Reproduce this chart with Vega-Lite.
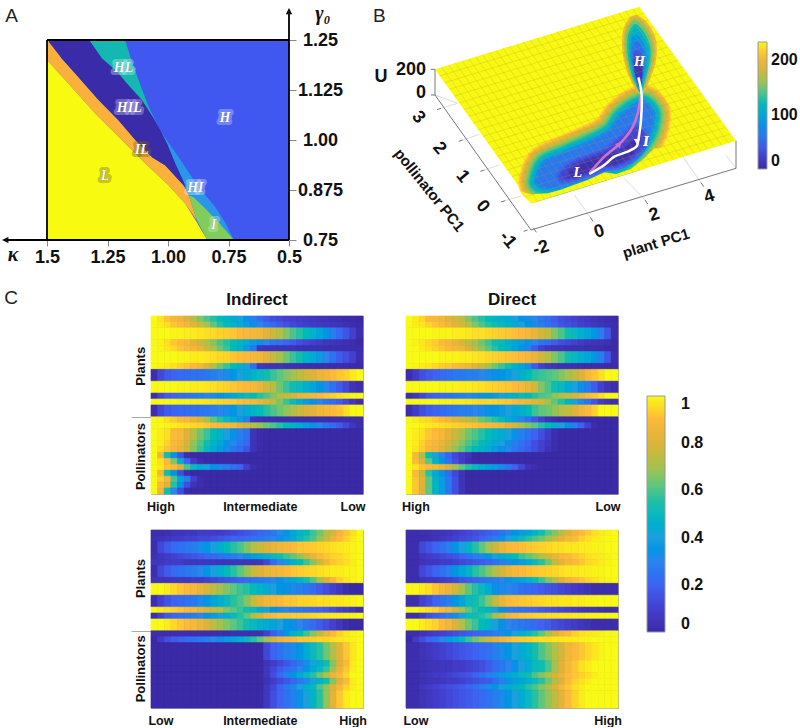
{"$schema":"https://vega.github.io/schema/vega-lite/v6.json","padding":{"left":0,"top":4,"right":0,"bottom":0},"background":"white","config":{"font":"Liberation Sans","view":{"stroke":null},"axis":{"grid":false},"text":{"font":"Liberation Sans"}},"columns":3,"spacing":{"row":36,"column":43},"bounds":"flush","resolve":{"scale":{"fill":"independent","stroke":"independent"},"legend":{"fill":"independent","stroke":"independent"}},
"concat":[
{"width":61,"height":240,"encoding":{"x":{"field":"k","type":"quantitative","scale":{"domain":[1.5,0.5],"range":[0,242]},"axis":{"orient":"bottom","offset":-40,"values":[1.5,1.25,1,0.75,0.5],"format":".2~f","labelExpr":"datum.value==1?'1.00':datum.label","domain":false,"tickColor":"#888888","tickSize":6,"labelFontSize":18,"labelFontWeight":"bold","labelColor":"#111111","title":null,"labelPadding":2,"labelFlush":false,"labelOverlap":false}},"y":{"field":"g","type":"quantitative","scale":{"domain":[0.65,1.25]},"axis":{"orient":"right","offset":181,"values":[0.75,0.875,1,1.125,1.25],"format":".3~f","labelExpr":"datum.value==1?'1.00':datum.label","domain":false,"tickColor":"#888888","tickSize":7,"labelFontSize":18,"labelFontWeight":"bold","labelColor":"#111111","title":null,"labelAlign":"center","labelPadding":24,"labelFlush":false,"labelOverlap":false}}},
"layer":[
{"data":{"values":[
{"r":"H","k":[1.5,0.5,0.5,1.5],"g":[0.75,0.75,1.25,1.25]},
{"r":"HI","k":[1.028,0.956,0.873,0.804,0.76,0.728,0.838,0.914,0.935,0.97],"g":[1.02,0.957,0.882,0.832,0.79,0.75,0.75,0.861,0.895,0.941]},
{"r":"I","k":[0.914,0.894,0.845,0.79,0.749,0.728,0.838,0.88],"g":[0.861,0.857,0.828,0.794,0.765,0.75,0.75,0.798]},
{"r":"HL","k":[1.326,1.177,1.156,1.122,1.08,1.046,1.028,1.059,1.108,1.17,1.211,1.273],"g":[1.25,1.25,1.208,1.15,1.083,1.041,1.02,1.054,1.1,1.141,1.171,1.204]},
{"r":"IL","k":[1.5,1.48,1.439,1.377,1.287,1.204,1.135,1.066,1.011,0.935,0.914,0.88,0.928,0.997,1.094,1.191,1.301,1.412,1.5],"g":[1.25,1.25,1.204,1.162,1.1,1.049,1.0,0.957,0.936,0.886,0.861,0.798,0.84,0.886,0.941,1.0,1.066,1.141,1.2]},
{"r":"HIL","k":[1.481,1.326,1.273,1.211,1.17,1.108,1.059,1.028,1.004,0.97,0.935,0.928,0.935,1.011,1.066,1.135,1.204,1.287,1.377,1.439,1.494],"g":[1.25,1.25,1.204,1.171,1.141,1.1,1.054,1.02,0.991,0.941,0.895,0.882,0.886,0.936,0.957,1.0,1.049,1.1,1.162,1.204,1.246]},
{"r":"L","k":[1.5,1.412,1.301,1.191,1.094,0.997,0.928,0.88,0.838,1.5],"g":[1.2,1.141,1.066,1.0,0.941,0.886,0.84,0.794,0.75,0.75]}
]},"transform":[{"flatten":["k","g"]},{"window":[{"op":"row_number","as":"i"}],"groupby":["r"]}],"mark":{"type":"line","strokeWidth":0,"stroke":null,"fillOpacity":1},"encoding":{"fill":{"field":"r","type":"nominal","scale":{"domain":["H","HI","I","HL","IL","HIL","L"],"range":["#4057F0","#2A96E8","#80CC5C","#14B8B0","#FBB03B","#3A2BA8","#F8FA10"]},"legend":null},"order":{"field":"i","type":"quantitative"}}},
{"data":{"values":[{"k":1.5,"g":0.75,"g2":1.25,"k2":1.5},{"k":1.5,"g":1.25,"k2":0.5,"g2":1.25},{"k":0.5,"g":0.75,"k2":0.5,"g2":1.32},{"k":0.5,"g":0.75,"k2":1.669,"g2":0.75}]},"mark":{"type":"rule","stroke":"#000000","strokeWidth":1.8},"encoding":{"x2":{"field":"k2"},"y2":{"field":"g2"}}},
{"data":{"values":[{"k":0.5,"g":1.32}]},"mark":{"type":"point","shape":"M-1,1L0,-1L1,1","size":22,"stroke":"#000000","strokeWidth":1.5,"filled":false,"opacity":1}},
{"data":{"values":[{"k":1.669,"g":0.75}]},"mark":{"type":"point","shape":"M1,-1L-1,0L1,1","size":22,"stroke":"#000000","strokeWidth":1.5,"filled":false,"opacity":1}},
{"data":{"values":[{"k":1.646,"g":1.31,"t":"A"}]},"mark":{"type":"text","fontSize":19,"color":"#222222"},"encoding":{"text":{"field":"t"}}},
{"data":{"values":[{"k":1.64,"g":0.713,"t":"κ"},{"k":0.36,"g":1.315,"t":"γ₀"}]},"mark":{"type":"text","font":"Liberation Serif","fontSize":20,"fontWeight":"bold","fontStyle":"italic","color":"#111111"},"encoding":{"text":{"field":"t"}}},
{"data":{"name":"alab","values":[{"k":1.26,"g":0.909,"t":"L"},{"k":1.108,"g":0.976,"t":"IL"},{"k":0.887,"g":0.88,"t":"HI"},{"k":0.811,"g":0.788,"t":"I"},{"k":1.16,"g":1.079,"t":"HIL"},{"k":1.184,"g":1.181,"t":"HL"},{"k":0.765,"g":1.054,"t":"H"}]},"mark":{"type":"text","font":"Liberation Serif","fontSize":14,"fontWeight":"bold","fontStyle":"italic","strokeWidth":6,"strokeOpacity":0.4,"strokeJoin":"round"},"encoding":{"text":{"field":"t"},"stroke":{"field":"t","type":"nominal","scale":{"domain":["L","IL","HI","I","HIL","HL","H"],"range":["#77771A","#77601A","#CDE6FF","#C8F0B0","#C8C0F0","#B0F0E8","#C8D0FF"]},"legend":null}}},
{"data":{"name":"alab"},"mark":{"type":"text","font":"Liberation Serif","fontSize":14,"fontWeight":"bold","fontStyle":"italic","fill":"#FFFFFF"},"encoding":{"text":{"field":"t"}}}
]},
{"width":212,"height":240,"encoding":{"x":{"field":"x","type":"quantitative","scale":{"domain":[-630,6],"clamp":false},"axis":null},"y":{"field":"y","type":"quantitative","scale":{"domain":[840,120]},"axis":null}},
"layer":[
{"data":{"values":[{"x":222,"y":208,"i":1},{"x":835,"y":20,"i":2},{"x":1125,"y":422,"i":3},{"x":510,"y":610,"i":4}]},"mark":{"type":"line","stroke":null,"fill":"#F8F812","strokeWidth":0},"encoding":{"order":{"field":"i","type":"quantitative"}}},
{"data":{"values":[
{"c":"L4","u":[225,215,205,195,185,175,165,155,145,135,125,115,105,95,85,75,65,60],"x":[850,870,875,865,845,820,790,765,735,680,640,600,565,532,530,550,610,660,715,752,778,810,835],"y":[310,330,350,395,430,460,487,502,505,528,543,556,562,552,535,490,462,440,415,390,352,325,312]},
{"c":"L5","u":[55,50,45,40,35,30,25],"x":[845,850,830,800,765,735,680,630,600,605,640,690,740,790,825],"y":[400,420,455,480,495,497,520,535,535,515,490,470,450,410,385]},
{"c":"L6","u":[20,15,10,5],"x":[830,815,790,760,725,680,640,625,640,690,745,790,815],"y":[425,455,477,490,493,512,527,525,505,480,465,450,425]}
]},"transform":[{"flatten":["x","y"]},{"flatten":["u"]},{"window":[{"op":"row_number","as":"i"}],"groupby":["c","u"]}],"mark":{"type":"line","interpolate":"cardinal-closed","strokeJoin":"round"},"encoding":{"detail":[{"field":"c"},{"field":"u"}],"order":{"field":"i","type":"quantitative"},"size":{"field":"u","type":"quantitative","scale":{"domain":[5,24,25,59,60,234],"range":[0,7,0,12,0,40]},"legend":null},"stroke":{"field":"u","type":"quantitative","scale":{"domain":[0,23.4,46.8,70.2,93.6,117,140.4,163.8,187.2,210.6,234.01],"range":["#3B2AA5","#4340D0","#3E62F2","#2A85EC","#1BA0DC","#0BB8C0","#4BC58C","#A6C24E","#DDB339","#FDB93A","#F8FA16"]},"legend":null},"fill":{"field":"u","type":"quantitative","scale":{"domain":[0,23.4,46.8,70.2,93.6,117,140.4,163.8,187.2,210.6,234],"range":["#3B2AA5","#4340D0","#3E62F2","#2A85EC","#1BA0DC","#0BB8C0","#4BC58C","#A6C24E","#DDB339","#FDB93A","#F8FA16"]},"legend":{"orient":"none","legendX":607,"legendY":2,"direction":"vertical","title":null,"gradientLength":127,"gradientThickness":9,"values":[0,100,200],"labelFontSize":16,"labelFontWeight":"bold","labelColor":"#111111","labelOffset":4,"gradientStrokeColor":"#999999","gradientStrokeWidth":1}}}},
{"data":{"values":[{"i":1,"x":480,"y":575},{"i":2,"x":510,"y":583},{"i":3,"x":560,"y":580},{"i":4,"x":600,"y":569},{"i":5,"x":640,"y":554},{"i":6,"x":680,"y":540},{"i":7,"x":730,"y":517},{"i":8,"x":765,"y":522},{"i":9,"x":810,"y":507},{"i":10,"x":850,"y":475},{"i":11,"x":880,"y":445},{"i":12,"x":1125,"y":422},{"i":13,"x":510,"y":610}]},"mark":{"type":"line","stroke":null,"fill":"#F8F812","strokeWidth":0},"encoding":{"order":{"field":"i","type":"quantitative"}}},
{"data":{"values":[{"i":1,"x":510,"y":611},{"i":2,"x":1125,"y":423},{"i":3,"x":1125,"y":520},{"i":4,"x":510,"y":700}]},"mark":{"type":"line","stroke":null,"fill":"#FFFFFF","strokeWidth":0},"encoding":{"order":{"field":"i","type":"quantitative"}}},
{"data":{"values":[{"x":222,"y":285,"x2":290,"y2":310},{"x":305,"y":420,"x2":355,"y2":403},{"x":370,"y":510,"x2":415,"y2":495},{"x":432,"y":602,"x2":480,"y2":588},{"x":688,"y":652,"x2":640,"y2":585},{"x":852,"y":600,"x2":790,"y2":535},{"x":1020,"y":548,"x2":965,"y2":470},{"x":1125,"y":505,"x2":1095,"y2":465},{"x":240,"y":325,"x2":290,"y2":310}]},"mark":{"type":"rule","stroke":"#DDDDDD","strokeWidth":1},"encoding":{"x2":{"field":"x2"},"y2":{"field":"y2"}}},
{"data":{"values":[{"x":222,"y":208,"x2":222,"y2":285},{"x":222,"y":285,"x2":510,"y2":690},{"x":510,"y":690,"x2":1125,"y2":505},{"x":1125,"y":422,"x2":1125,"y2":505},{"x":222,"y":208,"x2":210,"y2":208},{"x":222,"y":285,"x2":210,"y2":285},{"x":240,"y":325,"x2":228,"y2":329},{"x":305,"y":420,"x2":293,"y2":424},{"x":370,"y":510,"x2":358,"y2":514},{"x":432,"y":602,"x2":420,"y2":606},{"x":500,"y":690,"x2":488,"y2":694},{"x":518,"y":685,"x2":526,"y2":697},{"x":688,"y":652,"x2":696,"y2":664},{"x":852,"y":600,"x2":860,"y2":612},{"x":1020,"y":548,"x2":1028,"y2":560}]},"mark":{"type":"rule","stroke":"#777777","strokeWidth":1},"encoding":{"x2":{"field":"x2"},"y2":{"field":"y2"}}},
{"data":{"values":[
{"c":"H1","u":205,"x":[825,860,885,885,868,845,825,800,785,785,800],"y":[45,70,120,180,235,280,270,220,160,100,60]},
{"c":"H12","u":175,"x":[825,856,879,879,863,843,826,804,790,790,804],"y":[52,77,125,180,235,279,267,220,160,102,66]},
{"c":"H2","u":150,"x":[825,852,873,873,858,842,828,808,795,795,808],"y":[60,85,130,180,235,278,265,220,160,105,72]},
{"c":"H23","u":125,"x":[825,848,867,867,854,841,829,811,800,800,810],"y":[72,95,138,182,235,277,263,220,162,112,84]},
{"c":"H3","u":105,"x":[825,845,862,862,850,840,830,815,805,805,813],"y":[85,105,145,185,235,276,262,220,165,120,95]},
{"c":"H34","u":80,"x":[826,844,856,855,846,839,830,817,809,810,814],"y":[105,122,157,192,238,274,258,220,170,130,112]},
{"c":"H4","u":55,"x":[828,843,850,848,842,838,830,820,813,815],"y":[125,140,170,200,240,272,255,220,175,140]},
{"c":"H45","u":35,"x":[829,843,847,845,840,831,821,816,818],"y":[150,165,195,225,268,252,220,182,160]},
{"c":"H5","u":10,"x":[830,843,843,838,832,822,820],"y":[175,190,230,265,250,220,190]}
]},"transform":[{"flatten":["x","y"]},{"window":[{"op":"row_number","as":"i"}],"groupby":["c"]}],"mark":{"type":"line","interpolate":"cardinal-closed","strokeWidth":0,"stroke":null},"encoding":{"detail":{"field":"c"},"order":{"field":"i","type":"quantitative"},"fill":{"field":"u","type":"quantitative","scale":{"domain":[0,23.4,46.8,70.2,93.6,117,140.4,163.8,187.2,210.6,234],"range":["#3B2AA5","#4340D0","#3E62F2","#2A85EC","#1BA0DC","#0BB8C0","#4BC58C","#A6C24E","#DDB339","#FDB93A","#F8FA16"]}}}},
{"data":{"values":[{"x":236,"y":228,"x2":849,"y2":40},{"x":251,"y":248,"x2":864,"y2":60},{"x":265,"y":268,"x2":878,"y2":80},{"x":280,"y":288,"x2":893,"y2":100},{"x":294,"y":309,"x2":907,"y2":121},{"x":308,"y":329,"x2":921,"y2":141},{"x":323,"y":349,"x2":936,"y2":161},{"x":337,"y":369,"x2":950,"y2":181},{"x":352,"y":389,"x2":965,"y2":201},{"x":366,"y":409,"x2":979,"y2":221},{"x":380,"y":429,"x2":993,"y2":241},{"x":395,"y":449,"x2":1008,"y2":261},{"x":409,"y":469,"x2":1022,"y2":281},{"x":424,"y":489,"x2":1037,"y2":301},{"x":438,"y":510,"x2":1051,"y2":322},{"x":452,"y":530,"x2":1065,"y2":342},{"x":467,"y":550,"x2":1080,"y2":362},{"x":481,"y":570,"x2":1094,"y2":382},{"x":496,"y":590,"x2":1109,"y2":402},{"x":242,"y":202,"x2":530,"y2":604},{"x":263,"y":195,"x2":551,"y2":597},{"x":283,"y":189,"x2":571,"y2":591},{"x":304,"y":183,"x2":592,"y2":585},{"x":324,"y":177,"x2":612,"y2":579},{"x":344,"y":170,"x2":632,"y2":572},{"x":365,"y":164,"x2":653,"y2":566},{"x":385,"y":158,"x2":673,"y2":560},{"x":406,"y":152,"x2":694,"y2":554},{"x":426,"y":145,"x2":714,"y2":547},{"x":446,"y":139,"x2":734,"y2":541},{"x":467,"y":133,"x2":755,"y2":535},{"x":487,"y":126,"x2":775,"y2":528},{"x":508,"y":120,"x2":796,"y2":522},{"x":528,"y":114,"x2":816,"y2":516},{"x":548,"y":108,"x2":836,"y2":510},{"x":569,"y":101,"x2":857,"y2":503},{"x":589,"y":95,"x2":877,"y2":497},{"x":610,"y":89,"x2":898,"y2":491},{"x":630,"y":83,"x2":918,"y2":485},{"x":650,"y":76,"x2":938,"y2":478},{"x":671,"y":70,"x2":959,"y2":472},{"x":691,"y":64,"x2":979,"y2":466},{"x":712,"y":58,"x2":1000,"y2":460},{"x":732,"y":51,"x2":1020,"y2":453},{"x":752,"y":45,"x2":1040,"y2":447},{"x":773,"y":39,"x2":1061,"y2":441},{"x":793,"y":32,"x2":1081,"y2":434},{"x":814,"y":26,"x2":1102,"y2":428}]},"mark":{"type":"rule","stroke":"#A8A030","strokeWidth":0.6,"opacity":0.4},"encoding":{"x2":{"field":"x2"},"y2":{"field":"y2"}}},
{"data":{"values":[{"p":"pink","x":[838,830,810,775,730,685],"y":[290,340,390,432,470,520]},{"p":"white","x":[832,842,840,832,826,800,760,730,685],"y":[232,285,360,420,440,455,470,495,522]}]},"transform":[{"flatten":["x","y"]},{"window":[{"op":"row_number","as":"i"}],"groupby":["p"]}],"mark":{"type":"line","interpolate":"cardinal","strokeWidth":2.5},"encoding":{"color":{"field":"p","type":"nominal","scale":{"domain":["pink","white"],"range":["#D070D0","#FFFFFF"]},"legend":null},"order":{"field":"i","type":"quantitative"}}},
{"data":{"values":[{"x":775,"y":432}]},"mark":{"type":"point","shape":"triangle-up","filled":true,"size":45,"color":"#D070D0","opacity":1,"angle":40}},
{"data":{"values":[{"x":828,"y":425}]},"mark":{"type":"point","shape":"triangle-down","filled":true,"size":40,"color":"#FFFFFF","opacity":1}},
{"data":{"values":[{"x":150,"y":210,"t":"200"},{"x":180,"y":278,"t":"0"},{"x":60,"y":232,"t":"U"}]},"mark":{"type":"text","fontSize":18,"fontWeight":"bold","color":"#111111"},"encoding":{"text":{"field":"t"}}},
{"data":{"values":[{"x":172,"y":352,"t":"3"},{"x":235,"y":445,"t":"2"},{"x":305,"y":530,"t":"1"},{"x":365,"y":620,"t":"0"},{"x":440,"y":720,"t":"-1"}]},"mark":{"type":"text","fontSize":18,"fontWeight":"bold","color":"#111111","angle":50},"encoding":{"text":{"field":"t"}}},
{"data":{"values":[{"x":540,"y":745,"t":"-2"},{"x":715,"y":695,"t":"0"},{"x":880,"y":645,"t":"2"},{"x":1045,"y":590,"t":"4"}]},"mark":{"type":"text","fontSize":18,"fontWeight":"bold","color":"#111111","angle":-17},"encoding":{"text":{"field":"t"}}},
{"data":{"values":[{"x":205,"y":570,"t":"pollinator PC1"}]},"mark":{"type":"text","fontSize":15,"fontWeight":"bold","color":"#111111","angle":51},"encoding":{"text":{"field":"t"}}},
{"data":{"values":[{"x":885,"y":730,"t":"plant PC1"}]},"mark":{"type":"text","fontSize":15,"fontWeight":"bold","color":"#111111","angle":-17},"encoding":{"text":{"field":"t"}}},
{"data":{"values":[{"x":55,"y":48,"t":"B"}]},"mark":{"type":"text","fontSize":19,"color":"#222222"},"encoding":{"text":{"field":"t"}}},
{"data":{"name":"blab","values":[{"x":835,"y":185,"t":"H"},{"x":855,"y":425,"t":"I"},{"x":650,"y":520,"t":"L"}]},"mark":{"type":"text","font":"Liberation Serif","fontSize":14,"fontWeight":"bold","fontStyle":"italic","strokeWidth":8,"strokeOpacity":0.5,"strokeJoin":"round"},"encoding":{"text":{"field":"t"},"color":{"field":"t","type":"nominal","scale":{"domain":["H","I","L"],"range":["#B0B4F5","#B0D8F5","#5A5050"]},"legend":null}}},
{"data":{"name":"blab"},"mark":{"type":"text","font":"Liberation Serif","fontSize":14,"fontWeight":"bold","fontStyle":"italic","fill":"#FFFFFF"},"encoding":{"text":{"field":"t"}}}
]},
{"width":212,"height":240,"data":{"values":[]},"mark":"rect"},
{"width":61,"height":178,"data":{"values":[{"t":"C","x":-0.59,"y":-0.1}]},"mark":{"type":"text","fontSize":19,"color":"#222222"},"encoding":{"x":{"field":"x","type":"quantitative","scale":{"domain":[0,1]},"axis":null},"y":{"field":"y","type":"quantitative","scale":{"domain":[1,0]},"axis":null},"text":{"field":"t"}}},
{"width":212,"height":178,"view":{"stroke":"#AAAAAA","fill":"#3B2AA5"},"title":{"text":"Indirect","fontSize":17,"fontWeight":"bold","font":"Liberation Sans","offset":7,"color":"#111111"},"data":{"values":[
{"r0":0,"r1":1,"v":[100,97,92,88,85,80,72,66,60,56,52,48,44,40,34,28,22,18,14,12,10,9,8,7,6,5,4,3,2,1,1,0]},
{"r0":1,"r1":2,"v":[100,98,96,92,90,86,82,76,70,62,56,52,48,44,38,34,30,26,22,18,15,12,10,9,8,7,6,5,4,3,2,1]},
{"r0":2,"r1":4,"v":[100,100,100,99,99,98,98,97,96,95,94,93,92,90,89,88,86,82,77,72,66,60,56,52,47,42,36,28,22,16,10,2]},
{"r0":4,"r1":5,"v":[100,99,96,92,90,88,82,76,72,66,60,56,52,48,44,38,34,30,26,24,20,18,14,12,10,8,6,5,4,3,2,0]},
{"r0":5,"r1":6,"v":[100,99,97,95,92,90,88,84,78,72,64,58,52,46,38,26,6,5,5,4,4,4,3,3,3,3,2,2,2,2,2,2]},
{"r0":6,"r1":8,"v":[100,100,100,100,99,99,98,98,97,96,95,94,92,91,90,88,86,82,76,70,64,58,54,48,44,38,30,24,18,14,10,2]},
{"r0":8,"r1":9,"v":[100,99,98,96,94,92,90,86,80,72,64,58,52,46,40,24,6,5,4,4,3,3,3,2,2,2,2,2,2,1,1,1]},
{"r0":9,"r1":11,"v":[2,12,18,20,22,22,24,24,26,28,30,32,36,40,44,48,50,54,58,62,66,70,74,78,80,84,86,90,92,94,98,100]},
{"r0":11,"r1":13,"v":[100,100,100,100,99,99,98,98,97,96,95,94,92,91,90,88,84,78,72,64,58,54,50,46,42,36,30,24,18,12,4,2]},
{"r0":13,"r1":14,"v":[2,12,18,20,22,24,26,28,30,32,34,38,42,46,50,52,56,60,66,72,76,80,84,86,88,90,92,94,96,98,100,100]},
{"r0":14,"r1":15,"v":[100,100,100,100,99,99,98,98,97,96,95,94,93,91,90,88,84,80,74,66,58,50,44,38,34,30,26,22,18,12,6,2]},
{"r0":15,"r1":17,"v":[2,12,18,20,22,22,24,24,26,28,30,32,36,40,44,48,52,56,60,64,68,72,76,80,82,86,88,90,92,96,100,100]},
{"r0":17,"r1":18,"v":[100,99,96,93,90,88,84,78,70,62,56,50,44,38,28,6,4,3,3,2,2,2,2,2,2,2,2,2,2,2,2,2]},
{"r0":18,"r1":19,"v":[100,100,99,98,97,96,95,94,92,90,89,88,87,82,78,72,68,64,60,56,52,48,44,38,34,30,26,22,18,12,6,2]},
{"r0":19,"r1":21,"v":[100,98,96,90,88,80,72,64,58,52,46,40,34,28,24,4,1,0,0,0,0,0,0,0,0,0,0,0,0,0,0,0]},
{"r0":21,"r1":22,"v":[100,98,94,90,86,78,68,60,54,48,42,36,30,26,22,4,1,0,0,0,0,0,0,0,0,0,0,0,0,0,0,0]},
{"r0":22,"r1":23,"v":[100,96,92,88,84,76,66,58,50,44,38,32,26,22,16,4,1,0,0,0,0,0,0,0,0,0,0,0,0,0,0,0]},
{"r0":23,"r1":24,"v":[100,86,54,34,16,2,0,0,0,0,0,0,0,0,0,0,0,0,0,0,0,0,0,0,0,0,0,0,0,0,0,0]},
{"r0":24,"r1":25,"v":[100,96,90,66,46,20,8,2,0,0,0,0,0,0,0,0,0,0,0,0,0,0,0,0,0,0,0,0,0,0,0,0]},
{"r0":25,"r1":26,"v":[100,98,92,90,78,60,50,44,40,36,32,28,24,20,10,2,0,0,0,0,0,0,0,0,0,0,0,0,0,0,0,0]},
{"r0":26,"r1":27,"v":[100,88,54,36,14,2,0,0,0,0,0,0,0,0,0,0,0,0,0,0,0,0,0,0,0,0,0,0,0,0,0,0]},
{"r0":27,"r1":28,"v":[100,94,88,60,42,28,10,2,0,0,0,0,0,0,0,0,0,0,0,0,0,0,0,0,0,0,0,0,0,0,0,0]},
{"r0":28,"r1":29,"v":[100,90,82,56,34,14,4,2,0,0,0,0,0,0,0,0,0,0,0,0,0,0,0,0,0,0,0,0,0,0,0,0]},
{"r0":29,"r1":30,"v":[100,86,54,30,14,2,0,0,0,0,0,0,0,0,0,0,0,0,0,0,0,0,0,0,0,0,0,0,0,0,0,0]}
]},"transform":[{"flatten":["v"]},{"window":[{"op":"row_number","as":"c"}],"groupby":["r0"]}],"mark":{"type":"rect","strokeWidth":0.7},"encoding":{"x":{"field":"c","type":"ordinal","scale":{"paddingInner":0,"paddingOuter":0},"axis":{"values":[2,17,31],"labelExpr":"datum.value==2?'High':datum.value==17?'Intermediate':'Low'","labelAngle":0,"domain":false,"ticks":false,"title":null,"labelFontSize":12.5,"labelFontWeight":"bold","labelColor":"#111111","labelPadding":6}},"y":{"field":"r0","type":"quantitative","scale":{"domain":[0,30],"reverse":true},"axis":{"orient":"left","values":[8.4,17,23.6],"labelExpr":"datum.value==17?'':(datum.value<17?'Plants':'Pollinators')","labelAngle":-90,"labelAlign":"center","labelBaseline":"bottom","domain":false,"tickSize":20,"tickColor":"#AAAAAA","tickOpacity":{"expr":"datum.value==17?1:0"},"labelPadding":-16,"title":null,"labelFontSize":13,"labelFontWeight":"bold","labelColor":"#111111","labelOverlap":false,"labelFlush":false}},"y2":{"field":"r1"},"stroke":{"field":"v","type":"quantitative","scale":{"domain":[0,10,20,30,40,50,60,70,80,90,100.01],"range":["#3B2AA5","#4340D0","#3E62F2","#2A85EC","#1BA0DC","#0BB8C0","#4BC58C","#A6C24E","#DDB339","#FDB93A","#F8FA16"]},"legend":null},"fill":{"field":"v","type":"quantitative","scale":{"domain":[0,10,20,30,40,50,60,70,80,90,100],"range":["#3B2AA5","#4340D0","#3E62F2","#2A85EC","#1BA0DC","#0BB8C0","#4BC58C","#A6C24E","#DDB339","#FDB93A","#F8FA16"]},"legend":{"orient":"none","legendX":496,"legendY":80,"direction":"vertical","title":null,"gradientLength":236,"gradientThickness":18,"values":[0,20,40,60,80,100],"labelExpr":"datum.value==100?'1':datum.value==0?'0':format(datum.value/100,'.1f')","labelFontSize":16,"labelFontWeight":"bold","labelColor":"#111111","labelAlign":"center","labelOffset":16,"gradientStrokeColor":"#999999","gradientStrokeWidth":1}}}},
{"width":212,"height":178,"view":{"stroke":"#AAAAAA","fill":"#3B2AA5"},"title":{"text":"Direct","fontSize":17,"fontWeight":"bold","font":"Liberation Sans","offset":7,"color":"#111111"},"data":{"values":[
{"r0":0,"r1":1,"v":[100,98,95,90,88,86,82,78,74,66,60,56,52,48,46,44,40,36,32,30,26,22,18,14,12,10,8,6,4,3,2,1]},
{"r0":1,"r1":2,"v":[100,98,97,94,92,90,86,82,78,72,66,60,56,54,50,48,44,40,36,32,28,24,20,16,14,12,10,8,6,4,3,2]},
{"r0":2,"r1":4,"v":[100,100,100,100,99,99,99,98,98,97,96,96,95,94,93,92,91,90,88,84,78,74,66,60,54,50,46,42,36,28,16,2]},
{"r0":4,"r1":5,"v":[100,99,97,95,93,90,88,84,78,74,70,64,58,54,50,46,42,38,34,30,26,22,18,14,12,10,8,6,5,4,3,1]},
{"r0":5,"r1":6,"v":[100,100,98,96,94,92,90,88,86,80,74,68,62,56,52,48,42,36,28,18,10,6,5,4,3,3,3,2,2,2,1,1]},
{"r0":6,"r1":8,"v":[100,100,100,100,100,99,99,99,98,98,97,96,95,94,93,92,91,90,88,84,78,72,66,60,54,50,46,42,36,28,16,2]},
{"r0":8,"r1":9,"v":[100,99,98,97,95,93,92,90,88,86,82,76,70,64,58,54,48,42,32,18,10,6,4,3,3,3,2,2,2,2,1,1]},
{"r0":9,"r1":11,"v":[2,8,14,18,20,22,24,26,26,28,28,30,32,34,36,38,40,46,52,56,58,60,62,66,70,74,80,88,92,96,100,100]},
{"r0":11,"r1":13,"v":[100,100,100,100,100,99,99,99,98,98,97,96,95,94,93,92,90,88,84,78,66,60,54,50,44,40,34,26,18,10,4,2]},
{"r0":13,"r1":14,"v":[2,6,12,18,20,22,24,26,28,30,32,34,36,38,40,44,46,50,52,56,60,62,68,72,76,80,84,90,92,96,100,100]},
{"r0":14,"r1":15,"v":[100,100,100,100,100,99,99,98,98,97,96,95,95,94,93,92,90,88,86,82,78,70,62,56,48,40,32,24,16,8,4,2]},
{"r0":15,"r1":17,"v":[2,8,14,18,20,22,24,26,28,28,30,32,34,36,38,40,42,46,52,58,62,64,68,72,76,80,86,90,94,100,100,100]},
{"r0":17,"r1":18,"v":[100,98,96,95,92,90,86,82,78,74,70,64,60,56,50,44,38,30,24,16,10,4,2,0,0,0,0,0,0,0,0,0]},
{"r0":18,"r1":19,"v":[100,100,99,98,97,96,95,94,93,92,91,90,89,88,86,82,78,72,66,62,56,52,46,40,34,28,20,10,2,0,0,0]},
{"r0":19,"r1":21,"v":[100,98,96,92,90,88,82,76,70,64,60,56,52,48,44,40,34,28,24,20,14,8,2,0,0,0,0,0,0,0,0,0]},
{"r0":21,"r1":22,"v":[100,98,94,90,88,84,78,72,66,60,56,52,48,44,40,34,28,24,20,14,10,6,2,0,0,0,0,0,0,0,0,0]},
{"r0":22,"r1":23,"v":[100,97,93,88,86,82,74,68,62,56,52,48,44,38,34,30,26,22,18,14,10,4,2,0,0,0,0,0,0,0,0,0]},
{"r0":23,"r1":24,"v":[100,88,70,52,40,30,20,12,8,4,0,0,0,0,0,0,0,0,0,0,0,0,0,0,0,0,0,0,0,0,0,0]},
{"r0":24,"r1":25,"v":[100,90,80,62,48,36,24,14,8,3,0,0,0,0,0,0,0,0,0,0,0,0,0,0,0,0,0,0,0,0,0,0]},
{"r0":25,"r1":26,"v":[100,97,92,90,88,84,78,70,62,56,50,46,42,38,32,26,20,12,4,2,0,0,0,0,0,0,0,0,0,0,0,0]},
{"r0":26,"r1":27,"v":[100,90,74,56,44,34,22,12,4,0,0,0,0,0,0,0,0,0,0,0,0,0,0,0,0,0,0,0,0,0,0,0]},
{"r0":27,"r1":30,"v":[100,92,80,62,48,38,26,14,4,0,0,0,0,0,0,0,0,0,0,0,0,0,0,0,0,0,0,0,0,0,0,0]}
]},"transform":[{"flatten":["v"]},{"window":[{"op":"row_number","as":"c"}],"groupby":["r0"]}],"mark":{"type":"rect","strokeWidth":0.7},"encoding":{"x":{"field":"c","type":"ordinal","scale":{"paddingInner":0,"paddingOuter":0},"axis":{"values":[2,31],"labelExpr":"datum.value==2?'High':'Low'","labelAngle":0,"domain":false,"ticks":false,"title":null,"labelFontSize":12.5,"labelFontWeight":"bold","labelColor":"#111111","labelPadding":6}},"y":{"field":"r0","type":"quantitative","scale":{"domain":[0,30],"reverse":true},"axis":null},"y2":{"field":"r1"},"stroke":{"field":"v","type":"quantitative","scale":{"domain":[0,10,20,30,40,50,60,70,80,90,100.01],"range":["#3B2AA5","#4340D0","#3E62F2","#2A85EC","#1BA0DC","#0BB8C0","#4BC58C","#A6C24E","#DDB339","#FDB93A","#F8FA16"]},"legend":null},"fill":{"field":"v","type":"quantitative","scale":{"domain":[0,10,20,30,40,50,60,70,80,90,100],"range":["#3B2AA5","#4340D0","#3E62F2","#2A85EC","#1BA0DC","#0BB8C0","#4BC58C","#A6C24E","#DDB339","#FDB93A","#F8FA16"]},"legend":null}}},
{"width":61,"height":178,"data":{"values":[]},"mark":"rect"},
{"width":212,"height":178,"view":{"stroke":"#AAAAAA","fill":"#3B2AA5"},"data":{"values":[
{"r0":0,"r1":1,"v":[2,2,3,4,5,6,6,8,8,8,8,10,12,14,16,18,20,22,26,30,36,42,48,52,58,64,72,78,86,92,96,100]},
{"r0":1,"r1":2,"v":[3,4,6,8,8,10,10,12,12,14,16,18,20,20,22,24,26,28,30,34,38,44,50,56,60,68,76,84,90,94,98,100]},
{"r0":2,"r1":4,"v":[2,12,18,22,24,26,28,32,36,40,46,52,56,60,66,72,76,80,84,86,88,90,92,92,93,94,95,96,97,98,99,100]},
{"r0":4,"r1":5,"v":[3,6,8,10,12,14,16,18,20,22,24,26,28,30,34,38,42,46,50,54,58,62,68,76,84,90,92,94,95,97,99,100]},
{"r0":5,"r1":6,"v":[6,6,8,8,8,6,6,6,6,6,5,5,5,5,5,5,6,12,22,30,38,46,52,58,66,76,86,92,94,96,98,100]},
{"r0":6,"r1":8,"v":[2,12,18,22,24,26,28,30,36,40,46,52,56,62,68,76,80,84,86,88,90,92,93,94,95,96,97,98,98,99,99,100]},
{"r0":8,"r1":9,"v":[4,5,5,6,6,6,8,8,10,12,14,16,18,20,22,24,26,28,30,34,38,42,48,54,60,70,80,88,94,97,99,100]},
{"r0":9,"r1":11,"v":[100,100,98,95,92,90,88,84,80,74,70,66,62,58,56,52,48,44,40,36,34,32,28,26,22,18,14,10,6,2,0,0]},
{"r0":11,"r1":13,"v":[2,10,16,20,22,24,26,32,36,42,46,50,56,60,66,76,82,86,88,90,92,92,94,94,95,96,96,97,97,98,99,100]},
{"r0":13,"r1":14,"v":[100,98,96,94,92,90,88,84,80,76,72,66,62,58,54,50,44,40,36,32,30,28,26,24,22,20,18,14,10,8,6,2]},
{"r0":14,"r1":15,"v":[2,10,18,20,24,26,28,30,34,38,40,46,50,56,62,70,78,88,90,92,92,93,93,94,95,96,97,98,98,99,99,100]},
{"r0":15,"r1":17,"v":[100,100,98,95,92,90,88,84,80,74,70,66,62,58,54,50,46,44,42,40,36,34,30,26,22,18,14,10,6,2,0,0]},
{"r0":17,"r1":18,"v":[2,2,2,2,2,2,2,2,2,2,2,2,3,3,3,3,3,10,18,26,36,46,52,58,66,74,84,90,94,97,99,100]},
{"r0":18,"r1":19,"v":[0,8,14,18,20,22,24,26,28,30,34,38,42,46,50,56,62,70,78,84,88,90,92,92,93,94,95,96,97,98,99,100]},
{"r0":19,"r1":22,"v":[0,0,0,0,0,0,0,0,0,0,0,0,0,0,0,0,0,12,20,24,28,32,36,44,50,56,64,72,82,92,97,100]},
{"r0":22,"r1":23,"v":[0,0,0,0,0,0,0,0,0,0,0,0,0,0,0,0,0,4,8,12,16,20,26,32,40,46,54,66,80,90,98,100]},
{"r0":23,"r1":24,"v":[0,0,0,0,0,0,0,0,0,0,0,0,0,0,0,0,0,6,12,18,22,26,30,36,44,50,58,70,84,92,98,100]},
{"r0":24,"r1":25,"v":[0,0,0,0,0,0,0,0,0,0,0,0,0,0,0,0,0,6,14,22,28,36,44,50,56,64,72,84,90,95,100,100]},
{"r0":25,"r1":26,"v":[0,0,0,0,0,0,0,0,0,0,0,0,0,0,0,0,0,4,8,12,16,20,26,32,40,46,54,66,80,90,98,100]},
{"r0":26,"r1":27,"v":[0,0,0,0,0,0,0,0,0,0,0,0,0,0,0,0,0,6,12,20,26,32,40,46,52,60,68,80,88,94,98,100]},
{"r0":27,"r1":30,"v":[0,0,0,0,0,0,0,0,0,0,0,0,0,0,0,0,0,6,14,20,24,28,34,40,48,56,68,82,92,98,100,100]}
]},"transform":[{"flatten":["v"]},{"window":[{"op":"row_number","as":"c"}],"groupby":["r0"]}],"mark":{"type":"rect","strokeWidth":0.7},"encoding":{"x":{"field":"c","type":"ordinal","scale":{"paddingInner":0,"paddingOuter":0},"axis":{"values":[2,17,31],"labelExpr":"datum.value==2?'Low':datum.value==17?'Intermediate':'High'","labelAngle":0,"domain":false,"ticks":false,"title":null,"labelFontSize":12.5,"labelFontWeight":"bold","labelColor":"#111111","labelPadding":6}},"y":{"field":"r0","type":"quantitative","scale":{"domain":[0,30],"reverse":true},"axis":{"orient":"left","values":[8.1,17,23.3],"labelExpr":"datum.value==17?'':(datum.value<17?'Plants':'Pollinators')","labelAngle":-90,"labelAlign":"center","labelBaseline":"bottom","domain":false,"tickSize":20,"tickColor":"#AAAAAA","tickOpacity":{"expr":"datum.value==17?1:0"},"labelPadding":-16,"title":null,"labelFontSize":13,"labelFontWeight":"bold","labelColor":"#111111","labelOverlap":false,"labelFlush":false}},"y2":{"field":"r1"},"stroke":{"field":"v","type":"quantitative","scale":{"domain":[0,10,20,30,40,50,60,70,80,90,100.01],"range":["#3B2AA5","#4340D0","#3E62F2","#2A85EC","#1BA0DC","#0BB8C0","#4BC58C","#A6C24E","#DDB339","#FDB93A","#F8FA16"]},"legend":null},"fill":{"field":"v","type":"quantitative","scale":{"domain":[0,10,20,30,40,50,60,70,80,90,100],"range":["#3B2AA5","#4340D0","#3E62F2","#2A85EC","#1BA0DC","#0BB8C0","#4BC58C","#A6C24E","#DDB339","#FDB93A","#F8FA16"]},"legend":null}}},
{"width":212,"height":178,"view":{"stroke":"#AAAAAA","fill":"#3B2AA5"},"data":{"values":[
{"r0":0,"r1":1,"v":[2,2,3,3,4,5,6,8,10,12,14,16,18,20,24,28,34,38,42,48,54,60,66,72,80,86,90,93,96,98,99,100]},
{"r0":1,"r1":2,"v":[2,2,2,3,4,6,8,10,12,14,16,20,24,28,34,40,46,50,56,60,64,70,76,82,88,90,94,96,98,99,100,100]},
{"r0":2,"r1":4,"v":[2,2,12,16,20,24,28,36,40,48,56,62,70,76,84,88,90,91,92,93,94,95,96,96,97,97,98,98,99,99,100,100]},
{"r0":4,"r1":5,"v":[2,2,6,8,10,12,14,16,20,24,28,32,36,40,44,48,52,58,62,66,72,78,84,88,90,92,94,96,97,98,99,100]},
{"r0":5,"r1":6,"v":[2,2,4,6,6,8,8,10,12,14,16,18,20,24,28,32,36,38,44,50,56,64,74,82,88,90,92,95,96,98,99,100]},
{"r0":6,"r1":8,"v":[2,2,12,16,20,24,28,36,42,48,56,60,66,72,78,84,88,90,91,92,93,94,95,96,97,97,98,98,99,99,100,100]},
{"r0":8,"r1":9,"v":[2,2,4,6,6,8,10,12,16,18,20,24,26,28,30,34,38,42,46,52,58,66,72,80,86,90,92,95,96,98,99,100]},
{"r0":9,"r1":11,"v":[100,100,98,96,92,88,84,78,70,62,56,50,44,34,32,30,28,24,22,20,18,16,14,12,10,8,6,4,2,2,2,2]},
{"r0":11,"r1":13,"v":[2,2,10,14,20,24,28,36,42,50,54,58,66,74,84,90,91,92,93,94,95,96,96,97,97,98,98,99,99,100,100,100]},
{"r0":13,"r1":14,"v":[100,100,98,96,94,90,86,78,70,62,56,52,48,40,34,28,26,24,22,20,18,16,14,12,10,8,6,5,4,3,2,2]},
{"r0":14,"r1":15,"v":[2,2,8,14,18,22,28,32,40,50,54,56,60,70,78,86,90,92,93,94,95,96,96,97,97,98,98,99,99,100,100,100]},
{"r0":15,"r1":17,"v":[100,100,98,96,94,90,86,80,72,64,58,52,48,40,34,30,28,26,24,22,20,18,14,12,10,8,6,4,2,2,2,2]},
{"r0":17,"r1":18,"v":[2,2,4,6,8,10,12,14,16,18,20,22,24,28,32,36,40,46,50,56,62,72,80,86,90,94,96,97,98,99,100,100]},
{"r0":18,"r1":19,"v":[0,8,14,20,24,30,38,44,52,58,64,70,76,82,86,90,92,93,94,95,96,96,97,97,98,98,99,99,100,100,100,100]},
{"r0":19,"r1":22,"v":[2,2,4,6,8,10,12,14,16,18,20,22,24,28,32,36,40,44,48,54,60,66,72,78,86,90,92,95,97,99,100,100]},
{"r0":22,"r1":24,"v":[2,2,3,4,5,6,6,8,8,10,12,14,18,22,26,30,34,40,44,50,54,60,70,80,88,92,96,98,100,100,100,100]},
{"r0":24,"r1":25,"v":[2,2,4,6,8,8,10,12,14,16,20,24,28,32,38,42,46,50,54,60,66,72,78,84,90,92,94,96,98,100,100,100]},
{"r0":25,"r1":26,"v":[2,2,3,4,5,6,8,8,10,12,14,16,18,22,28,34,38,42,46,50,56,64,72,80,90,94,96,98,100,100,100,100]},
{"r0":26,"r1":27,"v":[2,2,6,8,10,12,14,16,18,20,24,28,32,36,40,44,48,52,56,60,66,72,80,88,92,96,98,100,100,100,100,100]},
{"r0":27,"r1":30,"v":[2,2,4,6,8,10,12,14,16,18,20,22,24,28,32,36,40,44,50,56,62,68,74,82,90,94,98,100,100,100,100,100]}
]},"transform":[{"flatten":["v"]},{"window":[{"op":"row_number","as":"c"}],"groupby":["r0"]}],"mark":{"type":"rect","strokeWidth":0.7},"encoding":{"x":{"field":"c","type":"ordinal","scale":{"paddingInner":0,"paddingOuter":0},"axis":{"values":[2,31],"labelExpr":"datum.value==2?'Low':'High'","labelAngle":0,"domain":false,"ticks":false,"title":null,"labelFontSize":12.5,"labelFontWeight":"bold","labelColor":"#111111","labelPadding":6}},"y":{"field":"r0","type":"quantitative","scale":{"domain":[0,30],"reverse":true},"axis":null},"y2":{"field":"r1"},"stroke":{"field":"v","type":"quantitative","scale":{"domain":[0,10,20,30,40,50,60,70,80,90,100.01],"range":["#3B2AA5","#4340D0","#3E62F2","#2A85EC","#1BA0DC","#0BB8C0","#4BC58C","#A6C24E","#DDB339","#FDB93A","#F8FA16"]},"legend":null},"fill":{"field":"v","type":"quantitative","scale":{"domain":[0,10,20,30,40,50,60,70,80,90,100],"range":["#3B2AA5","#4340D0","#3E62F2","#2A85EC","#1BA0DC","#0BB8C0","#4BC58C","#A6C24E","#DDB339","#FDB93A","#F8FA16"]},"legend":null}}}
]}
